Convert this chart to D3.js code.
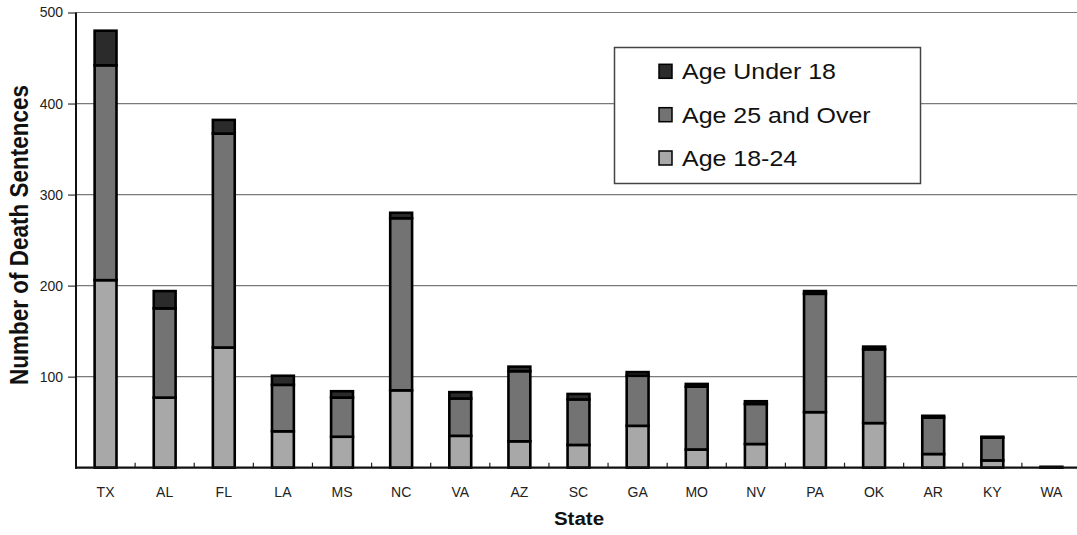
<!DOCTYPE html>
<html>
<head>
<meta charset="utf-8">
<script src="https://cdn.jsdelivr.net/npm/d3@7"></script>
<style>
  html, body { margin: 0; padding: 0; background: #fff; }
  svg { display: block; font-family: "Liberation Sans", Arial, Helvetica, sans-serif; }
</style>
</head>
<body>
<svg id="chart" width="1077" height="535"></svg>
<script>
// Death sentences by state, split by age group at time of offense
const states = ["TX", "AL", "FL", "LA", "MS", "NC", "VA", "AZ", "SC", "GA", "MO", "NV", "PA", "OK", "AR", "KY", "WA"];
const age18to24 = [206, 77, 132, 40, 34, 85, 35, 29, 25, 46, 20, 26, 61, 49, 15, 8, 0];
const age25Over = [236, 98, 235, 51, 43, 189, 41, 77, 50, 55, 69, 44, 130, 81, 40, 25, 1];
const ageUnder18 = [38, 19, 15, 10, 7, 6, 7, 5, 6, 4, 3, 3, 3, 3, 2, 1, 0];
const yTicks = [100, 200, 300, 400, 500];

// stacking order bottom to top; legend lists them top to bottom
const seriesKeys = ["age18to24", "age25Over", "ageUnder18"];
const seriesNames = { ageUnder18: "Age Under 18", age25Over: "Age 25 and Over", age18to24: "Age 18-24" };
const seriesFill = { ageUnder18: "#2b2b2b", age25Over: "#737373", age18to24: "#a8a8a8" };
const legendOrder = ["ageUnder18", "age25Over", "age18to24"];

const rows = states.map((s, i) => ({
  state: s,
  age18to24: age18to24[i],
  age25Over: age25Over[i],
  ageUnder18: ageUnder18[i]
}));

const svg = d3.select("#chart");
const plotLeft = 76, plotRight = 1081, plotTop = 12.5, plotBottom = 467.7;
const textStretch = 1.11;   // glyphs in this chart run slightly wide

const x = d3.scaleBand().domain(states).range([plotLeft, plotRight]).paddingInner(0.63).paddingOuter(0.315);
const y = d3.scaleLinear().domain([0, 500]).range([plotBottom, plotTop]);

// horizontal gridlines
svg.append("g")
  .selectAll("line")
  .data(yTicks)
  .join("line")
  .attr("x1", plotLeft).attr("x2", 1077)
  .attr("y1", d => y(d)).attr("y2", d => y(d))
  .attr("stroke", "#7a7a7a").attr("stroke-width", 1.2);

// stacked bars
const stack = d3.stack().keys(seriesKeys)(rows);
svg.append("g")
  .selectAll("g")
  .data(stack)
  .join("g")
  .attr("fill", d => seriesFill[d.key])
  .selectAll("rect")
  .data(d => d.filter(p => p[1] - p[0] > 0))
  .join("rect")
  .attr("x", d => x(d.data.state))
  .attr("width", x.bandwidth())
  .attr("y", d => y(d[1]))
  .attr("height", d => y(d[0]) - y(d[1]))
  .attr("stroke", "#000")
  .attr("stroke-width", 2.6);

// y axis
const yAxis = d3.axisLeft(y).tickValues(yTicks).tickSize(8).tickPadding(5);
const gy = svg.append("g").attr("transform", `translate(${plotLeft},0)`).call(yAxis);
gy.select(".domain").remove();
gy.selectAll(".tick line").attr("stroke", "#333").attr("stroke-width", 1.2);
gy.selectAll(".tick text").attr("font-size", 14).attr("fill", "#222")
  .attr("font-family", "'Liberation Sans', Arial, sans-serif");
svg.append("line").attr("x1", plotLeft).attr("x2", plotLeft).attr("y1", plotTop).attr("y2", plotBottom + 1)
  .attr("stroke", "#111").attr("stroke-width", 2);

// x axis: small inward ticks at category boundaries
const xAxis = d3.axisBottom(x).tickSize(0).tickPadding(19);
const gx = svg.append("g").attr("transform", `translate(0,${plotBottom})`).call(xAxis);
gx.select(".domain").remove();
gx.selectAll(".tick text").attr("font-size", 14).attr("fill", "#222")
  .attr("font-family", "'Liberation Sans', Arial, sans-serif");
const step = x.step();
svg.append("g")
  .selectAll("line")
  .data(states.slice(1))
  .join("line")
  .attr("x1", d => x(d) - step * 0.315).attr("x2", d => x(d) - step * 0.315)
  .attr("y1", plotBottom - 5).attr("y2", plotBottom)
  .attr("stroke", "#222").attr("stroke-width", 1.2);
svg.append("line").attr("x1", plotLeft - 1).attr("x2", 1077).attr("y1", plotBottom).attr("y2", plotBottom)
  .attr("stroke", "#111").attr("stroke-width", 2.2);

// axis titles
svg.append("text")
  .attr("transform", `translate(579,525) scale(${textStretch},1)`)
  .attr("text-anchor", "middle").attr("font-weight", "bold").attr("font-size", 18.5).attr("fill", "#111")
  .text("State");
svg.append("text")
  .attr("transform", `translate(28,235) rotate(-90) scale(1,${textStretch})`)
  .attr("text-anchor", "middle").attr("font-weight", "bold").attr("font-size", 22.5).attr("fill", "#111")
  .text("Number of Death Sentences");

// legend
const lg = svg.append("g");
lg.append("rect").attr("x", 614.5).attr("y", 47.5).attr("width", 306).attr("height", 136)
  .attr("fill", "#fff").attr("stroke", "#444").attr("stroke-width", 1.5);
const baselines = [79.3, 122.7, 166];
legendOrder.forEach((k, i) => {
  lg.append("rect").attr("x", 659).attr("y", baselines[i] - 15).attr("width", 13).attr("height", 14)
    .attr("fill", seriesFill[k]).attr("stroke", "#000").attr("stroke-width", 1.5);
  lg.append("text")
    .attr("transform", `translate(682,${baselines[i]}) scale(${textStretch},1)`)
    .attr("font-size", 22.5).attr("fill", "#111")
    .text(seriesNames[k]);
});
</script>
</body>
</html>
